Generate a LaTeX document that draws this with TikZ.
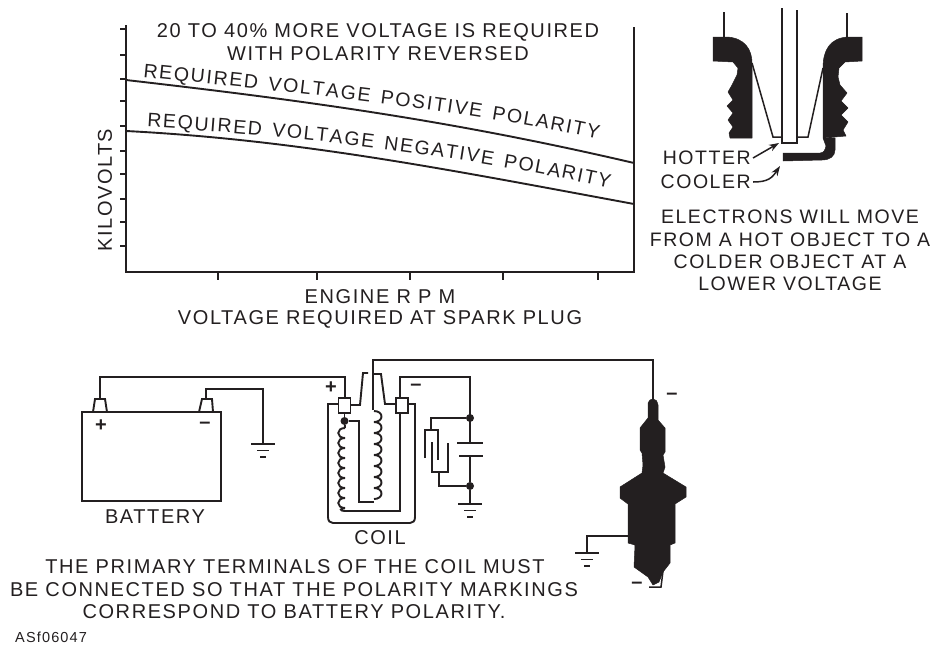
\documentclass[tikz,border=0pt]{standalone}
\usepackage{fontspec}
\setmainfont[LetterSpace=8]{Liberation Sans}
\usetikzlibrary{decorations.text,arrows.meta}
\definecolor{ink}{HTML}{231F20}
\tikzset{
  wire/.style={draw=ink,line width=1.9pt,line join=miter},
  thin wire/.style={draw=ink,line width=1.5pt},
  solid part/.style={fill=ink,draw=ink,line width=.5pt,line join=round},
  label/.style={font=\fontsize{20}{22}\selectfont,text=ink,inner sep=0pt,align=center},
  side label/.style={label,font=\fontsize{19.5}{22}\selectfont},
  sign/.style={label,font=\fontsize{20}{22}\selectfont\bfseries},
  dot/.style={circle,fill=ink,inner sep=0pt,minimum size=8pt},
  terminal/.style={draw=ink,line width=1.9pt,fill=white,minimum width=12pt,minimum height=15pt,inner sep=0pt},
  callout/.style={draw=ink,line width=1.5pt,-{Stealth[length=10pt,width=7pt]}},
}
\newcommand{\groundsym}[2]{%
  \draw[wire] (#1-12,#2) -- (#1+12,#2);
  \draw[wire] (#1-6,#2+6.5) -- (#1+6,#2+6.5);
  \draw[wire] (#1-3,#2+13) -- (#1+3,#2+13);
}
\begin{document}
\begin{tikzpicture}[x=1pt,y=-1pt]
\useasboundingbox (0,0) rectangle (941,648);
% chart
\draw[wire] (126,25) -- (126,272) -- (634,272) -- (634,27);
\foreach \y in {29,55,79,101,126,151,174,199,222,246} \draw[wire] (120,\y) -- (126,\y);
\foreach \x in {218,317,410,503,598} \draw[wire] (\x,272) -- (\x,280);
\draw[wire] (126,80) .. controls (300,100) and (450,120) .. (634,163);
\draw[wire] (126,131) .. controls (300,140) and (450,170) .. (634,204);
\path[decorate,decoration={text along path,text align={fit to path},
  text={|\fontsize{19.5}{22}\selectfont\color{ink}|REQUIRED VOLTAGE POSITIVE POLARITY}}]
  (143,77) .. controls (290,92) and (450,108) .. (598,139);
\path[decorate,decoration={text along path,text align={fit to path},
  text={|\fontsize{19.5}{22}\selectfont\color{ink}|REQUIRED VOLTAGE NEGATIVE POLARITY}}]
  (147,127) .. controls (300,136) and (460,155) .. (609,188);
\node[label] (t1) at (378,32) {20 TO 40\% MORE VOLTAGE IS REQUIRED};
\node[label] (t2) at (378,54) {WITH POLARITY REVERSED};
\node[label,rotate=90] (kv) at (105,190) {KILOVOLTS};
\node[label] (rpm) at (380,297) {ENGINE R P M};
\node[label] (vr) at (380,319) {VOLTAGE REQUIRED AT SPARK PLUG};
% plug detail
\draw[thin wire] (782,8) -- (782,143) -- (797,143) -- (797,10);
\draw[thin wire] (752,63) -- (773,137) -- (782,137);
\draw[thin wire] (823,68) -- (808,137) -- (797,137);
\draw[thin wire] (724,12) -- (724,38);
\draw[thin wire] (847,13) -- (847,38);
\path[solid part] (713,37) -- (727,37) .. controls (745,38) and (752,50) .. (752,63) -- (752,138) -- (730,138) -- (729,133) -- (733,127) -- (728,120) -- (733,113) -- (727,106) -- (733,100) -- (728,92) -- (732,85) -- (737,75) -- (738,68) -- (733,62) -- (713,61) -- cycle;
\path[solid part] (862,37) -- (848,37) .. controls (830,38) and (823,50) .. (823,68) -- (823,138) -- (835,138) -- (835,150) .. controls (835,156) and (830,160) .. (822,160) -- (783,161) -- (783,153) -- (820,153) .. controls (824,153) and (825,150) .. (826,146) -- (823,138) -- (846,136) -- (843,130) -- (848,122) -- (841,115) -- (848,108) -- (841,101) -- (847,93) -- (840,85) -- (838,77) -- (839,68) -- (845,62) -- (862,61) -- cycle;
\node[side label,anchor=east] (hot) at (751,158) {HOTTER};
\node[side label,anchor=east] (cool) at (751,182) {COOLER};
\coordinate (hotT) at (779,143);
\coordinate (coolT) at (780,166);
\draw[callout] (hot.east) ++(2,0) -- (hotT);
\draw[callout] (cool.east) ++(2,0) .. controls (768,182) and (772,178) .. (coolT);
\node[side label] (e1) at (790,217) {ELECTRONS WILL MOVE};
\node[side label] (e2) at (790,240) {FROM A HOT OBJECT TO A};
\node[side label] (e3) at (790,262) {COLDER OBJECT AT A};
\node[side label] (e4) at (790,284) {LOWER VOLTAGE};
% battery
\draw[wire] (82,412) rectangle (221,501);
\draw[wire] (93,412) -- (95,399) -- (105,399) -- (107,412);
\draw[wire] (199,412) -- (202,399) -- (212,399) -- (213,412);
\node[sign] (bp) at (101,426) {+};
\node[sign] (bm) at (205,425) {–};
\node[label] (bat) at (155,517) {BATTERY};
\coordinate (gb) at (263,444);
\draw[wire] (206,399) -- (206,389) -- (263,389) -- (gb);
\groundsym{263}{444}
% coil
\draw[wire] (338,404) -- (328,404) -- (328,517) .. controls (328,521) and (330,523) .. (333,523) -- (410,523) .. controls (413,523) and (415,521) .. (415,517) -- (415,404) -- (408,404);
\draw[wire] (350,405) -- (360,405) -- (363,373) -- (368,373);
\draw[wire] (396,404) -- (385,404) -- (381,374) -- (374,374);
\draw[wire] (100,399) -- (100,377) -- (345,377) -- (345,398);
\draw[wire] (373,410) -- (373,360) -- (653,360) -- (653,400);
\draw[wire] (400,398) -- (400,377) -- (470,377) -- (470,443);
\node[terminal] (tl) at (344.5,405.5) {};
\node[terminal] (tr) at (402,405.5) {};
\node[dot] (dc) at (344.5,421) {};
\draw[wire] (tl) -- (dc);
\draw[wire] (dc) -- (359,421) -- (359,502) -- (374,502);
\draw[wire] (400,413) -- (400,511) -- (345,511);
\draw[wire] (dc) -- (345,428);
\foreach \i in {0,...,7} \draw[wire] (345,428+\i*10) .. controls (336,428+\i*10) and (336,438+\i*10) .. (345,438+\i*10);
\draw[wire] (345,508) .. controls (340,508) and (339,511) .. (345,511);
\foreach \i in {0,...,7} \draw[wire] (374,411+\i*11) .. controls (384,411+\i*11) and (384,422+\i*11) .. (374,422+\i*11);
\node[sign] (cp) at (331,388) {+};
\node[sign] (cm) at (416,387) {–};
\node[label] (coil) at (380,538) {COIL};
\node[dot] (d1) at (470,418) {};
\node[dot] (d2) at (470,486) {};
\draw[wire] (457,443) -- (483,443);
\draw[wire] (459,456) -- (483,456);
\draw[wire] (470,456) -- (d2);
\draw[wire] (d2) -- (470,504);
\groundsym{470}{504}
\draw[wire] (d1) -- (431,418) -- (431,430);
\draw[wire] (425,458) -- (425,430) -- (438,430) -- (438,460);
\draw[wire] (432,442) -- (432,472) -- (448,472) -- (448,443);
\draw[wire] (439,472) -- (439,486) -- (d2);
% spark plug
\path[solid part] (648,403) .. controls (649,400) and (651,399) .. (653,399) .. controls (656,399) and (657,401) .. (658,405) -- (658,420) -- (665,428) -- (665,452) -- (663,455) -- (665,467) -- (663,473) -- (686,487) -- (686,497) -- (675,504) -- (675,543) -- (670,545) -- (670,563) -- (663,572) -- (659,582) -- (653,585) -- (648,577) -- (634,567) -- (635,545) -- (628,543) -- (628,504) -- (620,498) -- (620,487) -- (642,473) -- (643,465) -- (642,453) -- (640,450) -- (640,428) -- (648,418) -- cycle;
\draw[thin wire] (663,571) -- (661,587) -- (649,587);
\coordinate (gs) at (587,553);
\draw[wire] (628,536) -- (587,536) -- (gs);
\groundsym{587}{553}
\node[sign] (sm1) at (672,396) {–};
\node[sign] (sm2) at (637,585) {–};
% texts
\node[label] (b1) at (295,567) {THE PRIMARY TERMINALS OF THE COIL MUST};
\node[label] (b2) at (294,590) {BE CONNECTED SO THAT THE POLARITY MARKINGS};
\node[label] (b3) at (294,612) {CORRESPOND TO BATTERY POLARITY.};
\node[label,anchor=west,font=\fontsize{14.5}{16}\selectfont] (as) at (15,637) {ASf06047};
\end{tikzpicture}
\end{document}
